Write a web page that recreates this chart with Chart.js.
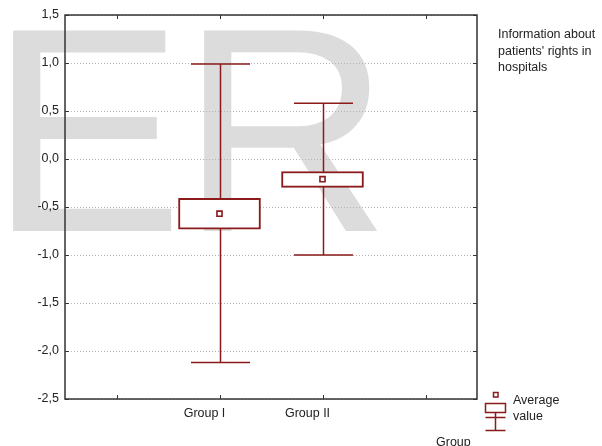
<!DOCTYPE html>
<html><head><meta charset="utf-8">
<script src="https://cdn.jsdelivr.net/npm/chart.js@4/dist/chart.umd.min.js"></script>
<style>html,body{margin:0;padding:0;background:#fff}#wrap{width:602px;height:446px;position:relative}</style>
</head><body><div id="wrap"><canvas id="c" width="602" height="446"></canvas></div>
<script>
// ---- data ----
const categories = ['Group I', 'Group II'];
const groupPositions = [1, 2];
const whiskerMax = [0.99, 0.58];
const boxUpper = [-0.41, -0.13];
const meanValues = [-0.57, -0.21];
const boxLower = [-0.73, -0.295];
const whiskerMin = [-2.12, -1.00];
const yTicks = [-2.5, -2, -1.5, -1, -0.5, 0, 0.5, 1, 1.5];
const xTickPositions = [0, 1, 2, 3];
const legendTitle = ['Information about', "patients' rights in", 'hospitals'];
const legendItem = ['Average', 'value'];
const xTitle = 'Group';
const watermarkLetters = ['E', 'R'];

// ---- styles ----
const RED = '#8b1a1a';
const TEXT = '#222';
const FONT = '"Liberation Sans", Arial, sans-serif';
Chart.defaults.font.family = FONT;
Chart.defaults.font.size = 12.5;
Chart.defaults.color = TEXT;

const backgroundPlugin = {
  id: 'bgwm',
  beforeDraw(chart) {
    const ctx = chart.ctx;
    ctx.save();
    ctx.fillStyle = '#fff';
    ctx.fillRect(0, 0, chart.width, chart.height);
    ctx.fillStyle = '#dcdcdc';
    ctx.textAlign = 'left';
    ctx.textBaseline = 'alphabetic';
    // scale font so the cap height spans 26 -> 231
    ctx.font = '288px ' + FONT;
    const asc = ctx.measureText('E').actualBoundingBoxAscent || 206;
    const size = 288 * 205 / asc;
    ctx.font = size + 'px ' + FONT;
    const lefts = [12, 203];
    watermarkLetters.forEach((L, i) => {
      const m = ctx.measureText(L);
      ctx.fillText(L, lefts[i] + (m.actualBoundingBoxLeft || 0), 231);
    });
    ctx.restore();
  }
};

const whiskerPlugin = {
  id: 'whiskers',
  beforeDatasetsDraw(chart) {
    const ctx = chart.ctx, xs = chart.scales.x, ys = chart.scales.y;
    ctx.save();
    ctx.strokeStyle = RED;
    ctx.lineWidth = 1.5;
    groupPositions.forEach((g, i) => {
      const x = Math.round(xs.getPixelForValue(g)) + 0.5;
      const yT = ys.getPixelForValue(whiskerMax[i]);
      const yB = ys.getPixelForValue(whiskerMin[i]);
      ctx.beginPath();
      ctx.moveTo(x, yT); ctx.lineTo(x, yB);
      ctx.moveTo(x - 29.5, yT); ctx.lineTo(x + 29.5, yT);
      ctx.moveTo(x - 29.5, yB); ctx.lineTo(x + 29.5, yB);
      ctx.stroke();
    });
    ctx.restore();
  }
};

const framePlugin = {
  id: 'frame',
  afterDatasetsDraw(chart) {
    const ctx = chart.ctx, a = chart.chartArea, xs = chart.scales.x, ys = chart.scales.y;
    ctx.save();
    ctx.strokeStyle = '#333';
    ctx.lineWidth = 1.5;
    ctx.strokeRect(a.left, a.top, a.right - a.left, a.bottom - a.top);
    ctx.lineWidth = 1;
    ctx.beginPath();
    xTickPositions.forEach(v => {
      const x = Math.round(xs.getPixelForValue(v)) + 0.5;
      ctx.moveTo(x, a.top); ctx.lineTo(x, a.top + 4);
      ctx.moveTo(x, a.bottom); ctx.lineTo(x, a.bottom - 4);
    });
    yTicks.forEach(v => {
      const y = Math.round(ys.getPixelForValue(v)) + 0.5;
      ctx.moveTo(a.left, y); ctx.lineTo(a.left + 4, y);
      ctx.moveTo(a.right, y); ctx.lineTo(a.right - 4, y);
    });
    ctx.stroke();
    ctx.restore();
  },
  afterDraw(chart) {
    const ctx = chart.ctx;
    ctx.save();
    ctx.fillStyle = TEXT;
    ctx.font = '12.5px ' + FONT;
    ctx.textAlign = 'left';
    ctx.textBaseline = 'alphabetic';
    const tb = [38, 54.5, 71];
    legendTitle.forEach((t, i) => ctx.fillText(t, 498, tb[i]));
    ctx.fillText(legendItem[0], 513, 404);
    ctx.fillText(legendItem[1], 513, 420);
    ctx.fillText(xTitle, 436, 446);
    // legend symbol
    ctx.strokeStyle = RED;
    ctx.lineWidth = 1.5;
    ctx.strokeRect(493.5, 392.5, 4.5, 4.5);
    ctx.strokeRect(485.5, 403.5, 20, 9);
    ctx.beginPath();
    ctx.moveTo(485.5, 417.5); ctx.lineTo(505.5, 417.5);
    ctx.moveTo(495.5, 412.5); ctx.lineTo(495.5, 430.5);
    ctx.moveTo(485.5, 430.5); ctx.lineTo(505.5, 430.5);
    ctx.stroke();
    ctx.restore();
  }
};

new Chart(document.getElementById('c'), {
  type: 'bar',
  data: {
    datasets: [
      {
        type: 'line',
        label: 'Average value',
        data: groupPositions.map((x, i) => ({ x, y: meanValues[i] })),
        showLine: false,
        pointStyle: 'rect',
        pointRadius: 3.6,
        pointBackgroundColor: '#fff',
        pointBorderColor: RED,
        pointBorderWidth: 1.6,
        order: 1
      },
      {
        type: 'bar',
        label: 'Box',
        data: groupPositions.map((x, i) => ({ x, y: [boxLower[i], boxUpper[i]] })),
        backgroundColor: '#fff',
        borderColor: RED,
        borderWidth: 2,
        borderSkipped: false,
        barThickness: 82,
        order: 2
      }
    ]
  },
  options: {
    responsive: false,
    animation: false,
    layout: { padding: { left: 0, right: 125, top: 15, bottom: 0 } },
    plugins: { legend: { display: false }, tooltip: { enabled: false } },
    scales: {
      x: {
        type: 'linear',
        min: -0.5, max: 3.5,
        offset: false,
        afterBuildTicks: s => { s.ticks = xTickPositions.map(v => ({ value: v })); },
        afterFit: s => { s.height = 47; },
        grid: { display: false, drawTicks: false, offset: false },
        border: { display: false },
        ticks: {
          autoSkip: false, maxRotation: 0, padding: 7, labelOffset: -15,
          callback: v => { const i = groupPositions.indexOf(v); return i >= 0 ? categories[i] : ''; }
        }
      },
      y: {
        type: 'linear',
        min: -2.5, max: 1.5,
        afterBuildTicks: s => { s.ticks = yTicks.map(v => ({ value: v })); },
        afterFit: s => { s.width = 65; },
        grid: { color: '#b4b4b4', drawTicks: false, lineWidth: 1 },
        border: { display: false, dash: [1, 2] },
        ticks: {
          padding: 6,
          callback: v => v.toFixed(1).replace('.', ',')
        }
      }
    }
  },
  plugins: [backgroundPlugin, whiskerPlugin, framePlugin]
});
</script>
</body></html>
